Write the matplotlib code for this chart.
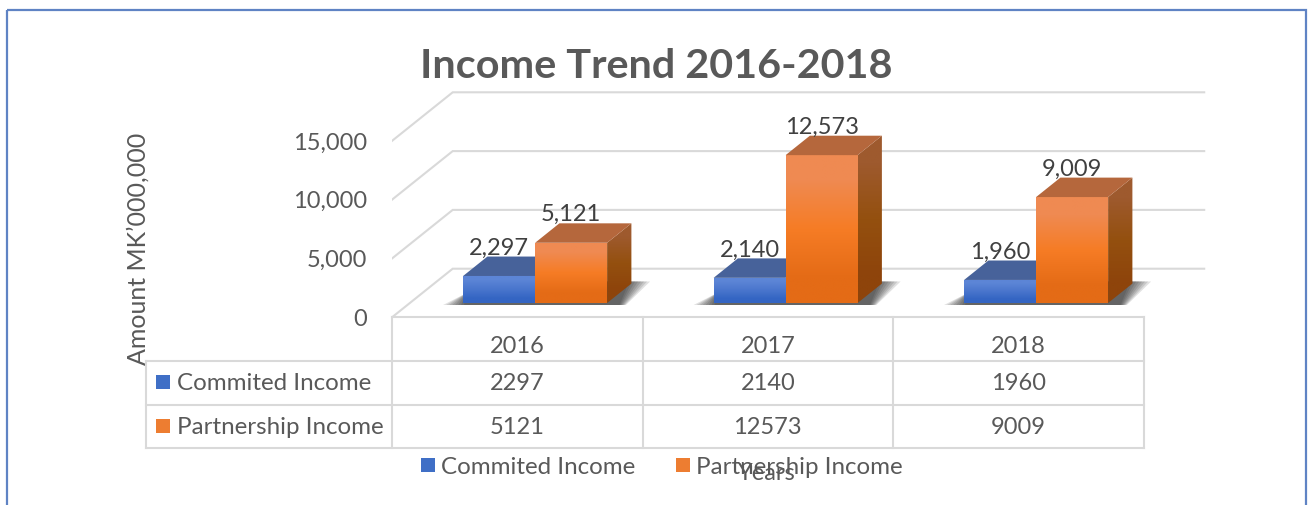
import numpy as np
import matplotlib
matplotlib.use("Agg")
import matplotlib.pyplot as plt
from matplotlib.colors import to_rgb
from matplotlib.patches import Polygon, Rectangle

years = ["2016", "2017", "2018"]
committed = [2297, 2140, 1960]
partnership = [5121, 12573, 9009]
series_names = ["Commited Income", "Partnership Income"]
y_ticks = [0, 5000, 10000, 15000]

plt.rcParams["font.family"] = ["Lato", "DejaVu Sans"]
GREY = "#595959"
GRID = "#d9d9d9"
FS = 17
W, H = 1308, 505

# pixel layout of the drawing
FRONT_L, FRONT_R, FRONT_B = 392.0, 1143.5, 317.3
CAT_PX = (FRONT_R - FRONT_L) / 3
VAL_PX = 58.8 / 5000
DEPTH_PX = (60.7, 48.6)
AX_R, AX_T = 1215.0, 80.0

fig = plt.figure(figsize=(W / 100, H / 100), dpi=100, facecolor="white")

# overlay for frame, table and legend, in pixel coordinates
ov = fig.add_axes([0, 0, 1, 1], zorder=0)
ov.set_xlim(0, W)
ov.set_ylim(H, 0)
ov.axis("off")
ov.add_patch(Rectangle((6.5, 9.5), 1299, 520, fill=False, ec="#5f83c4", lw=1.6))

ax = fig.add_axes([FRONT_L / W, 1 - FRONT_B / H, (AX_R - FRONT_L) / W, (FRONT_B - AX_T) / H], zorder=1)
ax.patch.set_alpha(0)
px_x = 1 / CAT_PX
px_y = 1 / VAL_PX
DX, DY = DEPTH_PX[0] * px_x, DEPTH_PX[1] * px_y
for s in ax.spines.values():
    s.set_visible(False)


def grad(stops):
    return np.array([to_rgb(c) for c in stops])[:, None, :]


def box(x_left, value, front, side, top_col, z):
    w = 72 * px_x
    f0 = 14.3 / DEPTH_PX[1]
    d = 0.40
    xl = x_left + f0 * DX
    xr = xl + w
    y0 = f0 * DY
    y1 = value + y0
    ox, oy = d * DX, d * DY
    im = ax.imshow(grad(front), extent=[xl, xr, y0, y1], aspect="auto",
                   interpolation="bilinear", zorder=z, origin="upper")
    im.set_clip_path(Rectangle((xl, y0), w, value, transform=ax.transData))
    poly = Polygon([(xr, y0), (xr + ox, y0 + oy), (xr + ox, y1 + oy), (xr, y1)], transform=ax.transData)
    im2 = ax.imshow(grad(side), extent=[xr, xr + ox, y0, y1 + oy], aspect="auto",
                    interpolation="bilinear", zorder=z, origin="upper")
    im2.set_clip_path(poly)
    ax.add_patch(Polygon([(xl, y1), (xr, y1), (xr + ox, y1 + oy), (xl + ox, y1 + oy)],
                         fc=top_col, ec="none", zorder=z))
    return xl, xr, y0, y1 + oy


# back wall and side wall grid
for v in y_ticks:
    ax.plot([-0.5, -0.5 + DX, 2.5 + DX], [v, v + DY, v + DY], color=GRID, lw=1.5, zorder=1,
            solid_joinstyle="miter")

blue_front = ["#5c85d6", "#4a76cd", "#3465c3"]
blue_side = ["#3f5f9c", "#2a4f96"]
orange_front = ["#ef8a52", "#f67c25", "#e46b16"]
orange_side = ["#9e5a2e", "#94500f", "#8e440b"]

LABEL_OFF = 8.5 / 100 * 72
for i, (a, b) in enumerate(zip(committed, partnership)):
    w = 72 * px_x
    # soft floor shadow below the pair of bars
    f0 = 14.3 / DEPTH_PX[1]
    xl = i + f0 * DX - w
    xr = i + f0 * DX + w
    y0 = f0 * DY
    for grow in np.arange(16, -8, -3):
        ax.add_patch(Polygon([
            (xl + (-4 - grow) * px_x, y0 - 2 * px_y),
            (xr + (14 + grow * 0.3) * px_x, y0 - 2 * px_y),
            (xr + (27 + grow) * px_x, y0 + 21.5 * px_y),
            (xl + (10 + grow) * px_x, y0 + 21.5 * px_y)],
            fc="#1c1c1c", ec="none", alpha=0.13, zorder=2))
    lx, rx, _, ty = box(i - w, a, blue_front, blue_side, "#47629a", 3 + i)
    ax.annotate(f"{a:,}", ((lx + rx) / 2, ty), xytext=(0, LABEL_OFF), textcoords="offset points",
                ha="center", va="center", fontsize=FS, color="#404040", zorder=10)
    lx, rx, _, ty = box(i, b, orange_front, orange_side, "#b5673c", 3.5 + i)
    ax.annotate(f"{b:,}", ((lx + rx) / 2, ty), xytext=(0, LABEL_OFF), textcoords="offset points",
                ha="center", va="center", fontsize=FS, color="#404040", zorder=10)

ax.set_xlim(-0.5, -0.5 + (AX_R - FRONT_L) * px_x)
ax.set_ylim(0, (FRONT_B - AX_T) * px_y)
ax.set_xticks([])
ax.set_yticks(y_ticks)
ax.set_yticklabels([f"{v:,}" for v in y_ticks], fontsize=FS, color=GREY)
ax.tick_params(axis="y", length=0, pad=18)

# data table
rows = [FRONT_B, 360.7, 404.5, 448.0]
left = 146.0
cols = [FRONT_L + k * CAT_PX for k in range(4)]
lk = dict(color=GRID, lw=1.5, solid_capstyle="projecting")
ov.plot([cols[0], cols[-1]], [rows[0], rows[0]], **lk)
for r in rows[1:]:
    ov.plot([left, cols[-1]], [r, r], **lk)
ov.plot([left, left], [rows[1], rows[3]], **lk)
for c in cols:
    ov.plot([c, c], [rows[0], rows[3]], **lk)
for k, yr in enumerate(years):
    cx = (cols[k] + cols[k + 1]) / 2
    ov.text(cx, 346.5, yr, ha="center", va="center", fontsize=FS, color=GREY)
    ov.text(cx, 384, str(committed[k]), ha="center", va="center", fontsize=FS, color=GREY)
    ov.text(cx, 427, str(partnership[k]), ha="center", va="center", fontsize=FS, color=GREY)
for name, col, yy in zip(series_names, ["#3f6fc6", "#ed7d31"], [382, 426]):
    ov.add_patch(Rectangle((156, yy - 7), 14, 14, fc=col, ec="none"))
    ov.text(177, yy + 1, name, ha="left", va="center", fontsize=17.4, color=GREY)

# legend, axis titles, title
for name, col, sx, tx in zip(series_names, ["#3f6fc6", "#ed7d31"], [421, 676], [441, 696]):
    ov.add_patch(Rectangle((sx, 458), 14, 14, fc=col, ec="none"))
    ov.text(tx, 467, name, ha="left", va="center", fontsize=17.4, color=GREY)
ov.text(767, 473, "Years", ha="center", va="center", fontsize=FS, color=GREY)
ov.text(138, 249, "Amount MK\u2019000,000", rotation=90, ha="center", va="center", fontsize=18, color=GREY)
ov.text(656, 67, "Income Trend 2016-2018", ha="center", va="center", fontsize=29.8, fontweight="bold", color=GREY)

fig.savefig("out.png", dpi=100)
